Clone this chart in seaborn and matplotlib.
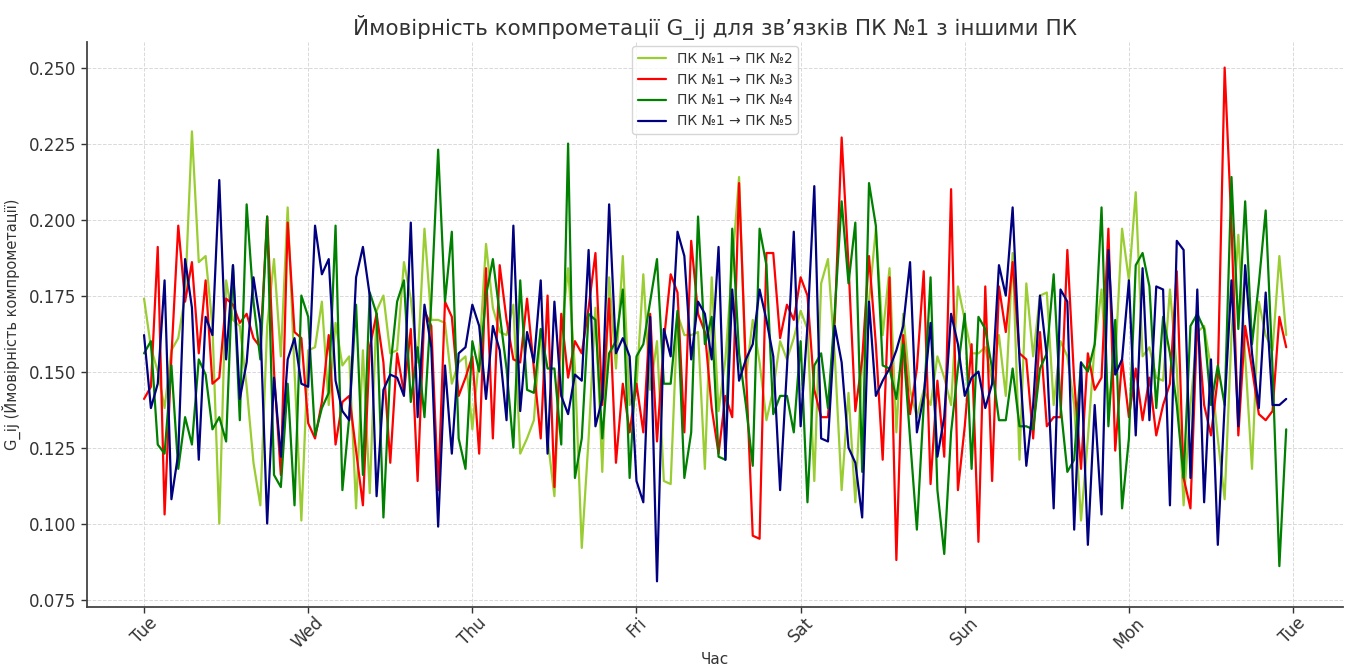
import numpy as np
import pandas as pd
import matplotlib
matplotlib.use("Agg")
import matplotlib.pyplot as plt
import matplotlib.dates as mdates
import seaborn as sns

series_names = ["ПК №1 → ПК №2", "ПК №1 → ПК №3", "ПК №1 → ПК №4", "ПК №1 → ПК №5"]

g12 = [.174, .158, .150, .138, .157, .161, .175, .229, .186, .188, .165, .100, .180, .167, .165, .145, .120, .106, .165, .187, .155, .204, .150, .101,
       .157, .158, .173, .139, .166, .152, .155, .105, .157, .110, .170, .175, .156, .157, .186, .174, .153, .197, .167, .167, .166, .146, .153, .155,
       .131, .155, .192, .171, .163, .162, .172, .123, .128, .134, .164, .128, .109, .162, .184, .151, .092, .128, .171, .117, .181, .151, .188, .139,
       .145, .182, .144, .160, .114, .113, .169, .162, .162, .163, .118, .181, .137, .154, .185, .214, .148, .167, .153, .134, .144, .160, .154, .161,
       .170, .164, .114, .179, .187, .155, .111, .143, .107, .154, .173, .197, .162, .184, .130, .169, .144, .135, .144, .139, .155, .148, .139, .178,
       .167, .156, .156, .158, .147, .162, .142, .189, .121, .179, .155, .175, .176, .139, .160, .155, .139, .101, .128, .159, .177, .139, .154, .197,
       .180, .209, .155, .158, .148, .147, .177, .151, .106, .139, .163, .165, .151, .128, .108, .162, .195, .155, .118, .173, .162, .157, .188, .162]

g13 = [.141, .145, .191, .103, .155, .198, .173, .186, .156, .180, .146, .148, .174, .172, .166, .169, .161, .158, .201, .150, .116, .199, .163, .161,
       .133, .128, .140, .162, .126, .140, .142, .124, .106, .158, .169, .153, .120, .156, .143, .164, .114, .170, .165, .111, .173, .168, .142, .148,
       .155, .123, .184, .128, .185, .167, .154, .153, .174, .151, .128, .175, .112, .169, .148, .160, .156, .171, .189, .139, .174, .120, .146, .130,
       .146, .130, .169, .127, .160, .182, .176, .130, .193, .169, .163, .138, .123, .142, .135, .212, .151, .096, .095, .189, .189, .161, .172, .167,
       .181, .175, .144, .135, .135, .167, .227, .185, .137, .154, .188, .159, .121, .181, .088, .162, .136, .151, .183, .113, .147, .122, .210, .111,
       .132, .159, .094, .178, .114, .178, .163, .186, .156, .154, .128, .163, .132, .135, .135, .190, .147, .118, .156, .144, .148, .197, .124, .154,
       .135, .151, .134, .148, .129, .139, .146, .183, .115, .105, .167, .139, .129, .148, .250, .198, .129, .165, .151, .136, .134, .137, .168, .158]

g14 = [.156, .160, .126, .123, .152, .118, .135, .126, .154, .149, .131, .135, .127, .185, .134, .205, .173, .154, .201, .116, .112, .146, .106, .175,
       .168, .129, .138, .143, .198, .111, .135, .172, .116, .176, .169, .102, .151, .173, .180, .140, .158, .135, .173, .223, .173, .196, .128, .118,
       .160, .150, .175, .187, .169, .151, .125, .180, .144, .143, .164, .151, .151, .126, .225, .115, .128, .169, .167, .128, .156, .160, .177, .115,
       .155, .159, .173, .187, .146, .146, .170, .115, .130, .201, .159, .168, .122, .121, .197, .156, .139, .119, .197, .185, .136, .142, .142, .130,
       .160, .107, .152, .156, .138, .170, .206, .179, .199, .117, .212, .198, .152, .151, .141, .159, .128, .098, .139, .181, .111, .090, .130, .151,
       .169, .118, .168, .164, .151, .134, .134, .151, .132, .132, .131, .151, .156, .182, .139, .117, .121, .153, .150, .159, .204, .132, .167, .105,
       .128, .185, .189, .178, .138, .168, .156, .139, .115, .165, .169, .164, .139, .152, .139, .214, .164, .206, .159, .179, .203, .151, .086, .131]

g15 = [.162, .138, .146, .180, .108, .123, .187, .171, .121, .168, .162, .213, .154, .185, .141, .153, .181, .166, .100, .148, .122, .154, .161, .146,
       .145, .198, .182, .187, .147, .137, .134, .181, .191, .175, .109, .144, .149, .148, .142, .199, .135, .172, .158, .099, .152, .123, .156, .158,
       .172, .165, .141, .165, .157, .134, .198, .137, .163, .153, .180, .123, .173, .142, .136, .149, .147, .190, .132, .141, .205, .156, .161, .155,
       .114, .107, .168, .081, .164, .155, .196, .188, .154, .173, .169, .154, .191, .121, .177, .147, .154, .159, .177, .167, .155, .111, .151, .196,
       .132, .165, .211, .128, .127, .165, .153, .125, .120, .102, .173, .142, .147, .151, .157, .165, .186, .130, .142, .166, .122, .135, .169, .159,
       .142, .148, .150, .138, .146, .185, .175, .204, .154, .119, .139, .175, .155, .105, .177, .173, .098, .153, .093, .139, .103, .190, .149, .154,
       .180, .129, .184, .134, .178, .177, .106, .193, .190, .115, .177, .107, .154, .093, .139, .180, .132, .185, .156, .138, .176, .139, .139, .141]

times = pd.date_range("2024-01-02 00:00", periods=len(g12), freq="h")

df = pd.concat([
    pd.DataFrame({"Час": times, "G": vals, "Зв'язок": name})
    for name, vals in zip(series_names, [g12, g13, g14, g15])
], ignore_index=True)

palette = {series_names[0]: "yellowgreen", series_names[1]: "red",
           series_names[2]: "green", series_names[3]: "navy"}

sns.set_style("whitegrid", {"grid.linestyle": "--", "grid.color": "#d9d9d9",
                            "axes.edgecolor": "#444444"})
plt.rcParams["font.family"] = ["DejaVu Sans"]

fig = plt.figure(figsize=(13.46, 6.68), dpi=100)
ax = fig.add_axes([0.0646, 0.0913, 0.9334, 0.846])

sns.lineplot(data=df, x="Час", y="G", hue="Зв'язок", palette=palette,
             hue_order=series_names, linewidth=1.6, ax=ax)

ax.set_title("Ймовірність компрометації G_ij для зв’язків ПК №1 з іншими ПК",
             fontsize=15.5, color="#333333", pad=5)
ax.set_xlabel("Час", fontsize=11, color="#333333", labelpad=0)
ax.set_ylabel("G_ij (Ймовірність компрометації)", fontsize=10.5,
              color="#333333", labelpad=6)

ax.xaxis.set_major_locator(mdates.DayLocator())
ax.xaxis.set_major_formatter(mdates.DateFormatter("%a"))
ax.yaxis.set_major_formatter(matplotlib.ticker.FormatStrFormatter("%.3f"))
ax.tick_params(axis="both", labelsize=12, colors="#333333", length=4,
               width=1, direction="out", bottom=True, left=True)
ax.tick_params(axis="x", pad=1)
plt.setp(ax.get_xticklabels(), rotation=45)

ax.grid(True, linestyle="--", linewidth=0.7, color="#d9d9d9")
for s in ["top", "right"]:
    ax.spines[s].set_visible(False)
for s in ["left", "bottom"]:
    ax.spines[s].set_linewidth(1.3)
    ax.spines[s].set_color("#444444")

leg = ax.legend(loc="upper center", fontsize=10, frameon=True, title=None,
                borderaxespad=0.3)
leg.get_frame().set_edgecolor("#cccccc")
for t in leg.get_texts():
    t.set_color("#333333")

fig.savefig("out.png", dpi=100)
